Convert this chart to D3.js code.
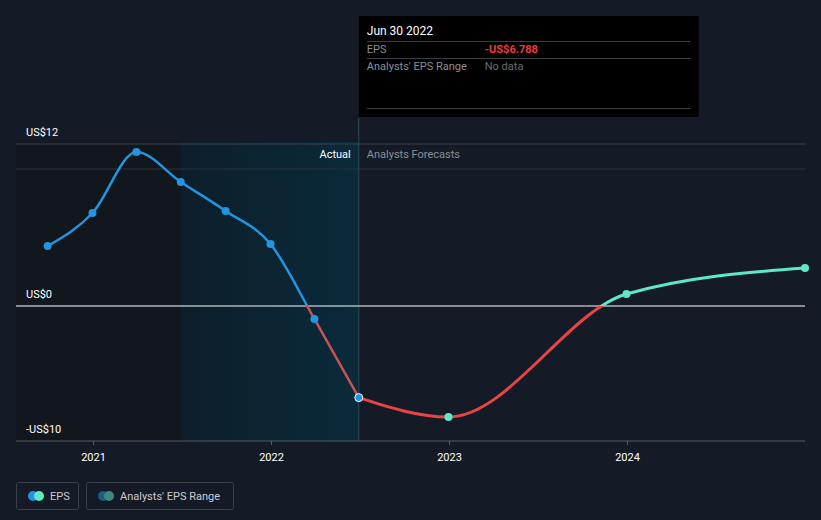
<!DOCTYPE html>
<html><head><meta charset="utf-8">
<script src="https://cdn.jsdelivr.net/npm/d3@7"></script>
<style>
html,body{margin:0;padding:0;background:#151b26;}
svg{display:block;font-family:Roboto,"Open Sans",sans-serif;}
</style></head>
<body><svg id="c" width="821" height="520"></svg>
<script>
const actualDates = ["2020-09-30","2020-12-31","2021-03-31","2021-06-30","2021-09-30","2021-12-31","2022-03-31","2022-06-30"];
const actualEPS = [4.44, 6.89, 11.4, 9.19, 7.04, 4.59, -0.96, -6.788];
const forecastDates = ["2022-06-30","2022-12-31","2023-12-31","2024-12-31"];
const forecastEPS = [-6.788, -8.22, 0.89, 2.81];
const yTicks = [12, 0, -10];
const yTickLabels = ["US$12", "US$0", "-US$10"];
const xTickYears = [2021, 2022, 2023, 2024];

const parse = d3.timeParse("%Y-%m-%d");
const actual = actualDates.map((d,i)=>({date:parse(d), v:actualEPS[i]}));
const forecast = forecastDates.map((d,i)=>({date:parse(d), v:forecastEPS[i]}));

const svg = d3.select("#c");
const W=821, H=520;
const pL=16, pR=805, pT=142, pB=441;

const x = d3.scaleTime()
  .domain([parse("2021-01-01"), parse("2024-01-01")])
  .range([93, 627]);
const y = d3.scaleLinear().domain([0, -10]).range([306, 441]);

svg.append("rect").attr("width",W).attr("height",H).attr("fill","#151b26");

const xPast = x(parse("2021-06-30"));
const xNow = x(parse("2022-06-30"));

const defs = svg.append("defs");
const grad = defs.append("linearGradient").attr("id","tg").attr("x1","0").attr("x2","1").attr("y1","0").attr("y2","0");
grad.append("stop").attr("offset","0").attr("stop-color","#0d1e2a");
grad.append("stop").attr("offset","1").attr("stop-color","#0a2a3a");

svg.append("rect").attr("x",pL).attr("y",pT).attr("width",xPast-pL).attr("height",pB-pT).attr("fill","#12161d");
svg.append("rect").attr("x",xPast).attr("y",pT).attr("width",xNow-xPast).attr("height",pB-pT).attr("fill","url(#tg)");

// grid lines
svg.append("line").attr("x1",pL).attr("x2",pR).attr("y1",y(12)).attr("y2",y(12)).attr("stroke","#3a414c").attr("stroke-width",1);
svg.append("line").attr("x1",pL).attr("x2",pR).attr("y1",169).attr("y2",169).attr("stroke","#2a313c").attr("stroke-width",1);
svg.append("line").attr("x1",xNow).attr("x2",xNow).attr("y1",118).attr("y2",pB).attr("stroke","#2e4a5a").attr("stroke-width",1);

// y labels
yTicks.forEach((t,i)=>{
  svg.append("text").attr("x",26).attr("y",y(t)-8).attr("fill","#ffffff").attr("font-size",11).text(yTickLabels[i]);
});

// zero line
svg.append("line").attr("x1",pL).attr("x2",pR).attr("y1",y(0)).attr("y2",y(0)).attr("stroke","#b0b3b8").attr("stroke-width",1.5);

// x axis
const xAxis = d3.axisBottom(x).tickValues(xTickYears.map(yr=>parse(yr+"-01-01"))).tickFormat(d3.timeFormat("%Y")).tickSize(4);
const gx = svg.append("g").attr("transform",`translate(0,${pB})`).call(xAxis);
gx.select(".domain").remove();
gx.selectAll(".tick line").attr("stroke","#555c66");
gx.selectAll(".tick text").attr("fill","#ffffff").attr("font-size",11).attr("dy","1.2em").attr("font-family","Roboto,sans-serif");
svg.append("line").attr("x1",pL).attr("x2",pR).attr("y1",pB).attr("y2",pB).attr("stroke","#555c66").attr("stroke-width",1);

// Actual / Forecast labels
svg.append("text").attr("x",xNow-8).attr("y",158).attr("text-anchor","end").attr("fill","#ffffff").attr("font-size",11).text("Actual");
svg.append("text").attr("x",xNow+8).attr("y",158).attr("fill","#8a8f96").attr("font-size",11).text("Analysts Forecasts");

// clip paths
defs.append("clipPath").attr("id","above").append("rect").attr("x",0).attr("y",0).attr("width",W).attr("height",y(0));
defs.append("clipPath").attr("id","below").append("rect").attr("x",0).attr("y",y(0)).attr("width",W).attr("height",H-y(0));

const line = d3.line().x(d=>x(d.date)).y(d=>y(d.v)).curve(d3.curveMonotoneX);

svg.append("path").attr("d",line(actual)).attr("fill","none").attr("stroke","#2394df").attr("stroke-width",2.5).attr("clip-path","url(#above)");
svg.append("path").attr("d",line(actual)).attr("fill","none").attr("stroke","#c4545a").attr("stroke-width",2.5).attr("clip-path","url(#below)");
svg.append("path").attr("d",line(forecast)).attr("fill","none").attr("stroke","#5de8c9").attr("stroke-width",3).attr("clip-path","url(#above)");
svg.append("path").attr("d",line(forecast)).attr("fill","none").attr("stroke","#e84444").attr("stroke-width",3).attr("clip-path","url(#below)");

// points
svg.selectAll(".fp").data(forecast.slice(1)).enter().append("circle")
  .attr("cx",d=>x(d.date)).attr("cy",d=>y(d.v)).attr("r",4).attr("fill","#5de8c9");
svg.selectAll(".ap").data(actual).enter().append("circle")
  .attr("cx",d=>x(d.date)).attr("cy",d=>y(d.v)).attr("r",4).attr("fill","#2394df")
  .attr("stroke",(d,i)=>i===actual.length-1?"#ffffff":"none").attr("stroke-width",1);

// tooltip
const tt = svg.append("g");
tt.append("rect").attr("x",xNow).attr("y",16).attr("width",340).attr("height",101).attr("fill","#000000");
tt.append("text").attr("x",xNow+8).attr("y",35).attr("fill","#ffffff").attr("font-size",12).text("Jun 30 2022");
tt.append("line").attr("x1",xNow+8).attr("x2",xNow+332).attr("y1",41.5).attr("y2",41.5).attr("stroke","#3a3d42");
tt.append("text").attr("x",xNow+8).attr("y",53).attr("fill","#8a8f96").attr("font-size",11).text("EPS");
tt.append("text").attr("x",xNow+126).attr("y",53).attr("fill","#ee3b3b").attr("font-size",11).attr("font-weight","bold").text("-US$6.788");
tt.append("line").attr("x1",xNow+8).attr("x2",xNow+332).attr("y1",58.5).attr("y2",58.5).attr("stroke","#3a3d42");
tt.append("text").attr("x",xNow+8).attr("y",70).attr("fill","#8a8f96").attr("font-size",11).text("Analysts' EPS Range");
tt.append("text").attr("x",xNow+126).attr("y",70).attr("fill","#6a6e74").attr("font-size",11).text("No data");
tt.append("line").attr("x1",xNow+8).attr("x2",xNow+332).attr("y1",108.5).attr("y2",108.5).attr("stroke","#3a3d42");

// legend
const lg = svg.append("g");
lg.append("rect").attr("x",16.5).attr("y",482.5).attr("width",62).attr("height",27).attr("rx",2).attr("fill","none").attr("stroke","#3a414c");
lg.append("circle").attr("cx",33).attr("cy",496).attr("r",5).attr("fill","#2394df");
lg.append("circle").attr("cx",39).attr("cy",496).attr("r",5).attr("fill","#5de8c9");
lg.append("text").attr("x",50).attr("y",500).attr("fill","#c8cbd0").attr("font-size",11).text("EPS");
lg.append("rect").attr("x",86.5).attr("y",482.5).attr("width",147).attr("height",27).attr("rx",2).attr("fill","none").attr("stroke","#3a414c");
lg.append("circle").attr("cx",103).attr("cy",496).attr("r",5).attr("fill","#1f5a80");
lg.append("circle").attr("cx",109).attr("cy",496).attr("r",5).attr("fill","#3b8a80");
lg.append("text").attr("x",120).attr("y",500).attr("fill","#c8cbd0").attr("font-size",11).text("Analysts' EPS Range");
</script></body></html>
